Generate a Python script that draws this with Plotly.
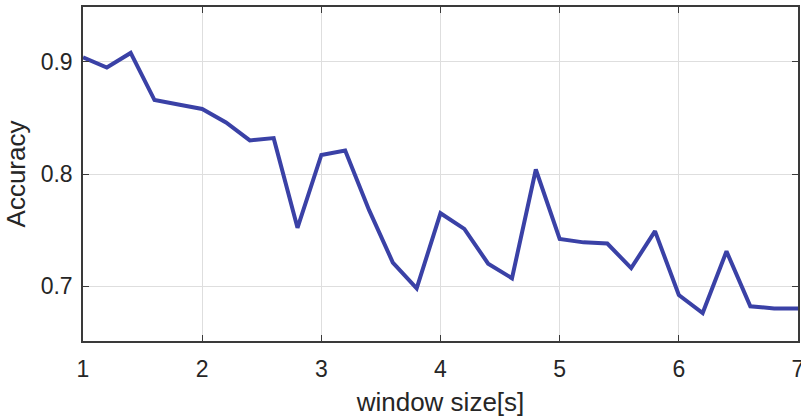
import plotly.graph_objects as go

window_size = [1.0, 1.2, 1.4, 1.6, 1.8, 2.0, 2.2, 2.4, 2.6, 2.8, 3.0,
               3.2, 3.4, 3.6, 3.8, 4.0, 4.2, 4.4, 4.6, 4.8, 5.0,
               5.2, 5.4, 5.6, 5.8, 6.0, 6.2, 6.4, 6.6, 6.8, 7.0]
accuracy = [0.904, 0.895, 0.908, 0.866, 0.862, 0.858, 0.846, 0.830, 0.832, 0.752, 0.817,
            0.821, 0.768, 0.721, 0.698, 0.765, 0.751, 0.720, 0.707, 0.804, 0.742,
            0.739, 0.738, 0.716, 0.749, 0.692, 0.676, 0.731, 0.682, 0.680, 0.680]
x_ticks = [1, 2, 3, 4, 5, 6, 7]
y_ticks = [0.7, 0.8, 0.9]

fig = go.Figure()
fig.add_trace(go.Scatter(x=window_size, y=accuracy, mode="lines",
                         line=dict(color="#3a41a6", width=4), showlegend=False))

font_family = "Liberation Sans, Arial, sans-serif"
fig.update_layout(
    width=801, height=419,
    margin=dict(l=83, r=3, t=7, b=78),
    paper_bgcolor="white", plot_bgcolor="white",
    font=dict(family=font_family, color="#262626"),
    xaxis=dict(
        range=[1, 7], tickvals=x_ticks, ticktext=[str(v) for v in x_ticks],
        showgrid=True, gridcolor="#dedede", gridwidth=1,
        showline=True, linecolor="#3a3a3a", linewidth=1.5, mirror="ticks",
        ticks="inside", ticklen=6, tickcolor="#3a3a3a", tickwidth=1,
        tickfont=dict(size=23, color="#262626"),
        ticklabelstandoff=7, ticklabeloverflow="allow", automargin=False,
        title=dict(text="window size[s]", font=dict(size=26, color="#262626"), standoff=11),
        zeroline=False,
    ),
    yaxis=dict(
        range=[0.651, 0.949], tickvals=y_ticks, ticktext=["0.7", "0.8", "0.9"],
        showgrid=True, gridcolor="#dedede", gridwidth=1,
        showline=True, linecolor="#3a3a3a", linewidth=1.5, mirror="ticks",
        ticks="inside", ticklen=6, tickcolor="#3a3a3a", tickwidth=1,
        tickfont=dict(size=23, color="#262626"),
        ticklabelstandoff=4, automargin=False,
        title=dict(text="Accuracy", font=dict(size=26, color="#262626"), standoff=8),
        zeroline=False,
    ),
)

fig.write_html("out.html")
